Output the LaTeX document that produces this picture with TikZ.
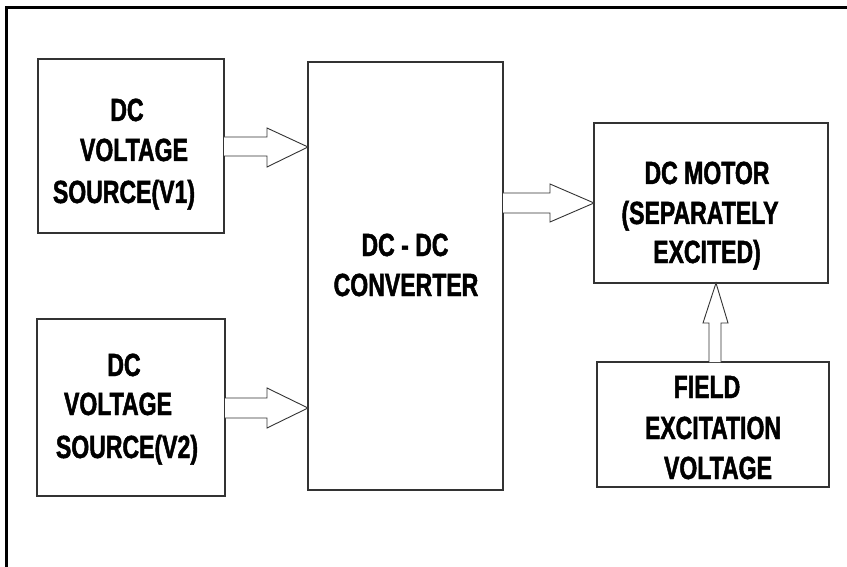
\documentclass[tikz,border=0pt]{standalone}
\usepackage{fontspec}
\setmainfont{Liberation Sans}
\newfontfamily\lblfont{Liberation Sans}[FakeStretch=0.72,FakeBold=1.5]
\begin{document}
\begin{tikzpicture}[x=1pt,y=-1pt,
  box/.style={draw=black!80,line width=1.1pt,rectangle,inner sep=0,outer sep=0},
  lbl/.style={font=\lblfont\bfseries\fontsize{32}{36}\selectfont,inner sep=0,anchor=base},
  blockarrow/.style={draw=black!80,line width=0.9pt,fill=white,line join=miter}]
\useasboundingbox (0,0) rectangle (847,567);
\fill[white] (0,0) rectangle (847,567);
% outer frame
\draw[line width=3pt] (6,567) -- (6,8) -- (847,8);
% boxes
\node[box,minimum width=186pt,minimum height=174pt] (v1) at (131,146) {};
\node[box,minimum width=188pt,minimum height=177pt] (v2) at (131,407.5) {};
\node[box,minimum width=195pt,minimum height=428pt] (conv) at (405.5,276) {};
\node[box,minimum width=234pt,minimum height=160pt] (motor) at (711,203) {};
\node[box,minimum width=232pt,minimum height=125pt] (field) at (713,424.5) {};
% texts
\node[lbl] (v1a) at (127,121) {DC};
\node[lbl] (v1b) at (134,161) {VOLTAGE};
\node[lbl] (v1c) at (124,203) {SOURCE(V1)};
\node[lbl] (v2a) at (124,376) {DC};
\node[lbl] (v2b) at (118,415) {VOLTAGE};
\node[lbl] (v2c) at (127,458) {SOURCE(V2)};
\node[lbl] (cva) at (405,256) {DC - DC};
\node[lbl] (cvb) at (406,296) {CONVERTER};
\node[lbl] (ma) at (707,184) {DC MOTOR};
\node[lbl] (mb) at (700,224) {(SEPARATELY};
\node[lbl] (mc) at (707,263) {EXCITED)};
\node[lbl] (fa) at (707,398) {FIELD};
\node[lbl] (fb) at (713,439) {EXCITATION};
\node[lbl] (fc) at (718,479) {VOLTAGE};
% block arrows
\draw[blockarrow] (v1.east |- 0,137) -- (267,137) -- (267,128) -- (conv.west |- 0,147)
  -- (267,167) -- (267,156) -- (v1.east |- 0,156);
\draw[blockarrow] (v2.east |- 0,398) -- (267,398) -- (267,388) -- (conv.west |- 0,408)
  -- (267,428) -- (267,418) -- (v2.east |- 0,418);
\draw[blockarrow] (conv.east |- 0,193) -- (550,193) -- (550,184) -- (motor.west |- 0,203)
  -- (550,222) -- (550,213) -- (conv.east |- 0,213);
\draw[blockarrow] (709,0 |- field.north) -- (709,323) -- (703,323) -- (716,0 |- motor.south)
  -- (728,323) -- (721,323) -- (721,0 |- field.north);
\end{tikzpicture}
\end{document}
